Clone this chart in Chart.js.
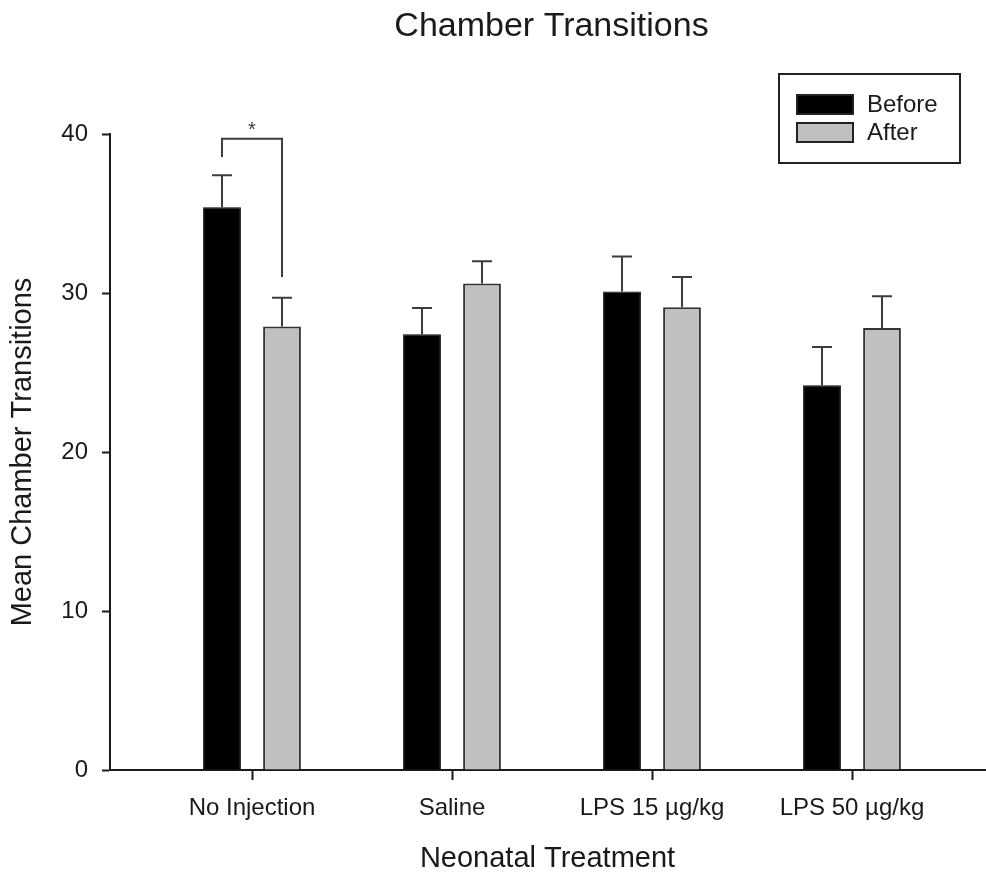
<!DOCTYPE html>
<html>
<head>
<meta charset="utf-8">
<title>Chamber Transitions</title>
<script src="https://cdn.jsdelivr.net/npm/chart.js@4"></script>
<style>
    html, body { margin: 0; padding: 0; background: #fff; }
    #wrap { width: 986px; height: 873px; position: relative; }
</style>
</head>
<body>
<div id="wrap"><canvas id="chart"></canvas></div>
<script>
const chartTitle = "Chamber Transitions";
const categories = ["No Injection", "Saline", "LPS 15 µg/kg", "LPS 50 µg/kg"];
const seriesNames = ["Before", "After"];
const beforeValues = [35.4, 27.4, 30.1, 24.2];
const afterValues = [27.9, 30.6, 29.1, 27.8];
const beforeErrors = [2.0, 1.65, 2.2, 2.4];
const afterErrors = [1.8, 1.4, 1.9, 2.0];
const yTicks = [0, 10, 20, 30, 40];
// significance bracket over "No Injection": top, left foot, right foot
const bracketValues = [39.7, 38.55, 31.0];
const bracketLabel = "*";

const FONT = "'Liberation Sans', Arial, sans-serif";
const INK = "#1a1a1a";

const errorsByDataset = [beforeErrors, afterErrors];

const errorBars = {
    id: "errorBars",
    afterDatasetsDraw(chart) {
        const ctx = chart.ctx;
        const y = chart.scales.y;
        ctx.save();
        ctx.strokeStyle = "#3c3c3c";
        ctx.lineWidth = 2;
        chart.data.datasets.forEach((ds, d) => {
            const meta = chart.getDatasetMeta(d);
            meta.data.forEach((bar, i) => {
                const v = ds.data[i].y;
                const top = y.getPixelForValue(v + errorsByDataset[d][i]);
                ctx.beginPath();
                ctx.moveTo(bar.x, bar.y);
                ctx.lineTo(bar.x, top);
                ctx.moveTo(bar.x - 10, top);
                ctx.lineTo(bar.x + 10, top);
                ctx.stroke();
            });
        });
        ctx.restore();
    },
};

const bracket = {
    id: "bracket",
    afterDatasetsDraw(chart) {
        const ctx = chart.ctx;
        const y = chart.scales.y;
        const left = chart.getDatasetMeta(0).data[0].x;
        const right = chart.getDatasetMeta(1).data[0].x;
        const top = y.getPixelForValue(bracketValues[0]);
        ctx.save();
        ctx.strokeStyle = "#3c3c3c";
        ctx.lineWidth = 2;
        ctx.beginPath();
        ctx.moveTo(left, y.getPixelForValue(bracketValues[1]));
        ctx.lineTo(left, top);
        ctx.lineTo(right, top);
        ctx.lineTo(right, y.getPixelForValue(bracketValues[2]));
        ctx.stroke();
        ctx.fillStyle = "#3c3c3c";
        ctx.font = "20px " + FONT;
        ctx.textAlign = "center";
        ctx.textBaseline = "middle";
        ctx.fillText(bracketLabel, (left + right) / 2, top - 8);
        ctx.restore();
    },
};

const titleAndLegend = {
    id: "titleAndLegend",
    afterDraw(chart) {
        const ctx = chart.ctx;
        const area = chart.chartArea;
        ctx.save();
        ctx.fillStyle = INK;
        ctx.font = "34px " + FONT;
        ctx.textAlign = "center";
        ctx.textBaseline = "middle";
        ctx.fillText(chartTitle, (area.left + area.right) / 2 + 4, 27);

        // legend box
        ctx.strokeStyle = "#222";
        ctx.lineWidth = 2;
        ctx.strokeRect(779, 74, 181, 89);
        ctx.font = "24px " + FONT;
        ctx.textAlign = "left";
        chart.data.datasets.forEach((ds, d) => {
            const yy = 95 + d * 28;
            ctx.fillStyle = ds.backgroundColor;
            ctx.fillRect(797, yy, 56, 19);
            ctx.lineWidth = 2;
            ctx.strokeStyle = "#222";
            ctx.strokeRect(797, yy, 56, 19);
            ctx.fillStyle = INK;
            ctx.fillText(ds.label, 867, yy + 10);
        });
        ctx.restore();
    },
};

new Chart(document.getElementById("chart"), {
    type: "bar",
    data: {
        datasets: [
            {
                label: seriesNames[0],
                data: categories.map((c, i) => ({ x: i, y: beforeValues[i] })),
                backgroundColor: "#000000",
                borderColor: "#000000",
                borderWidth: 1,
                categoryPercentage: 0.6,
                barPercentage: 0.63,
            },
            {
                label: seriesNames[1],
                data: categories.map((c, i) => ({ x: i, y: afterValues[i] })),
                backgroundColor: "#c0c0c0",
                borderColor: "#333333",
                borderWidth: 2,
                categoryPercentage: 0.6,
                barPercentage: 0.63,
            },
        ],
    },
    options: {
        responsive: true,
        maintainAspectRatio: false,
        animation: false,
        layout: { padding: { top: 134, left: 0, right: 1, bottom: 0 } },
        plugins: {
            legend: { display: false },
            title: { display: false },
            tooltip: { enabled: false },
        },
        scales: {
            x: {
                type: "linear",
                min: -0.71,
                max: 3.665,
                offset: false,
                afterBuildTicks: (s) => {
                    s.ticks = categories.map((c, i) => ({ value: i }));
                },
                afterFit: (s) => { s.height = 103; },
                border: { display: true, color: INK, width: 2 },
                grid: {
                    offset: false,
                    drawOnChartArea: false,
                    drawTicks: true,
                    tickLength: 10,
                    tickWidth: 2,
                    tickColor: INK,
                },
                ticks: {
                    color: INK,
                    font: { family: FONT, size: 24 },
                    padding: 14,
                    maxRotation: 0,
                    autoSkip: false,
                    callback: (v) => categories[v],
                },
                title: {
                    display: true,
                    text: "Neonatal Treatment",
                    color: INK,
                    font: { family: FONT, size: 29 },
                    padding: { top: 0, bottom: -3 },
                },
            },
            y: {
                min: 0,
                max: 40,
                afterBuildTicks: (s) => {
                    s.ticks = yTicks.map((v) => ({ value: v }));
                },
                afterFit: (s) => { s.width = 110; },
                border: { display: true, color: INK, width: 2 },
                grid: {
                    drawOnChartArea: false,
                    drawTicks: true,
                    tickLength: 8,
                    tickWidth: 2,
                    tickColor: INK,
                },
                ticks: {
                    color: INK,
                    font: { family: FONT, size: 24 },
                    padding: 14,
                },
                title: {
                    display: true,
                    text: "Mean Chamber Transitions",
                    color: INK,
                    font: { family: FONT, size: 29 },
                    padding: { top: 6, bottom: 0 },
                },
            },
        },
    },
    plugins: [errorBars, bracket, titleAndLegend],
});
</script>
</body>
</html>
